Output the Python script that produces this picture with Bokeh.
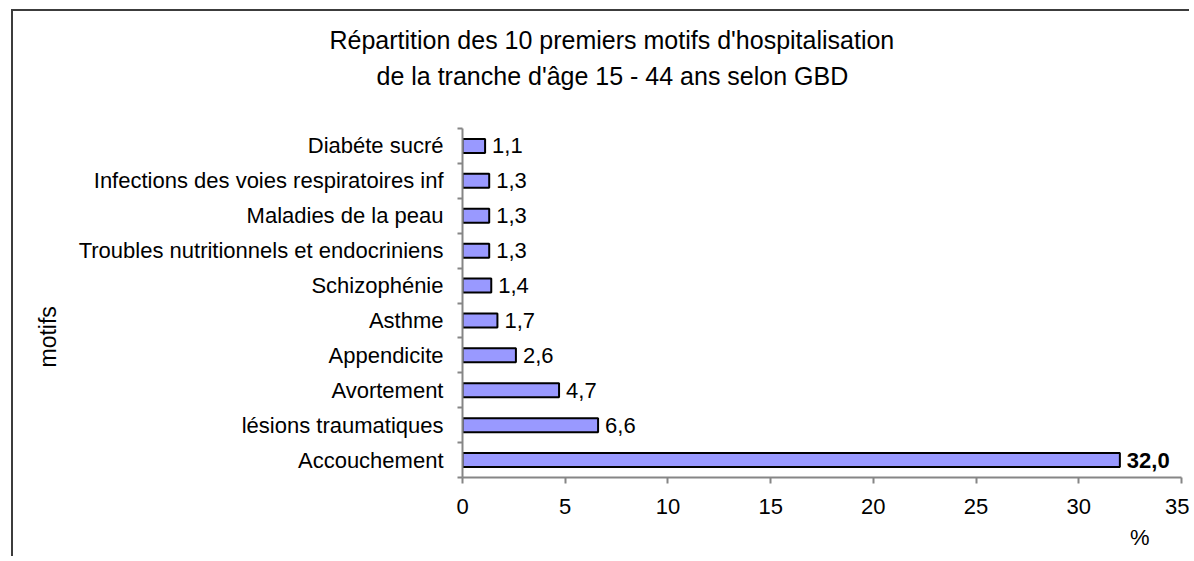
import numpy as np
from bokeh.plotting import figure
from bokeh.models import ColumnDataSource, FixedTicker, Title, Range1d
from bokeh.core.properties import value
from bokeh.embed import file_html
from bokeh.resources import INLINE

categories = ["Accouchement", "lésions traumatiques", "Avortement", "Appendicite", "Asthme",
              "Schizophénie", "Troubles nutritionnels et endocriniens", "Maladies de la peau",
              "Infections des voies respiratoires inf", "Diabéte sucré"]
values = [32.0, 6.6, 4.7, 2.6, 1.7, 1.4, 1.3, 1.3, 1.3, 1.1]
x_ticks = [0, 5, 10, 15, 20, 25, 30, 35]
title_lines = ["Répartition des 10 premiers motifs d'hospitalisation",
               "de la tranche d'âge 15 - 44 ans selon GBD"]

FONT = "Liberation Sans"
n = len(categories)
centers = [i + 0.5 for i in range(n)]
labels = [f"{v:.1f}".replace(".", ",") for v in values]
styles = ["bold" if v == max(values) else "normal" for v in values]

src = ColumnDataSource(dict(y=centers, v=values, lab=labels, st=styles))

p = figure(width=1178, height=547, output_backend="svg", toolbar_location=None,
           x_range=Range1d(0, 35), y_range=Range1d(0, n),
           min_border_left=449, min_border_right=10, min_border_top=117, min_border_bottom=81)
p.styles = {"margin-left": "11px", "margin-top": "9px",
            "border-left": "2px solid #3c3c3c", "border-top": "2px solid #3c3c3c"}
p.title = None
p.outline_line_color = None
p.grid.grid_line_color = None
p.background_fill_color = "white"
p.border_fill_color = "white"

p.hbar(y="y", right="v", left=0, height=0.4, source=src,
       fill_color="#9999FF", line_color="black", line_width=2)

p.text(x="v", y="y", text="lab", source=src, x_offset=7,
       text_font=value(FONT), text_font_size="22px", text_font_style="st",
       text_baseline="middle", text_align="left", text_color="black")

# x axis
xa = p.xaxis[0]
xa.ticker = FixedTicker(ticks=x_ticks)
xa.axis_line_color = "#868686"
xa.axis_line_width = 2
xa.major_tick_line_color = "#868686"
xa.major_tick_line_width = 2
xa.major_tick_out = 6
xa.major_tick_in = 0
xa.minor_tick_line_color = None
xa.major_label_text_font = FONT
xa.major_label_text_font_size = "22px"
xa.major_label_text_color = "black"
xa.major_label_standoff = 15

# y axis
ya = p.yaxis[0]
ya.ticker = FixedTicker(ticks=centers, minor_ticks=list(range(n + 1)))
ya.major_label_overrides = {c: name for c, name in zip(centers, categories)}
ya.axis_line_color = "#868686"
ya.axis_line_width = 2
ya.major_tick_line_color = None
ya.minor_tick_line_color = "#868686"
ya.minor_tick_line_width = 2
ya.minor_tick_out = 5
ya.minor_tick_in = 0
ya.major_label_text_font = FONT
ya.major_label_text_font_size = "22px"
ya.major_label_text_color = "black"
ya.major_label_standoff = 13

# spacer between the plot area and the two-line title
p.add_layout(Title(text=" ", standoff=33, text_font=FONT, text_font_size="1px"), "above")
# two-line title, centred on the chart area
p.add_layout(Title(text=title_lines[1], align="left", offset=-86, standoff=6, text_font=FONT,
                   text_font_size="25px", text_font_style="normal", text_color="black"), "above")
p.add_layout(Title(text=title_lines[0], align="left", offset=-133, standoff=6, text_font=FONT,
                   text_font_size="25px", text_font_style="normal", text_color="black"), "above")
# axis titles
p.add_layout(Title(text="motifs", align="left", offset=110, vertical_align="bottom", standoff=30,
                   text_font=FONT, text_font_size="23px", text_font_style="normal",
                   text_color="black"), "left")
p.add_layout(Title(text="%", align="right", offset=32, standoff=13, text_font=FONT,
                   text_font_size="22px", text_font_style="normal", text_color="black"), "below")

open("out.html", "w").write(file_html(p, INLINE))
